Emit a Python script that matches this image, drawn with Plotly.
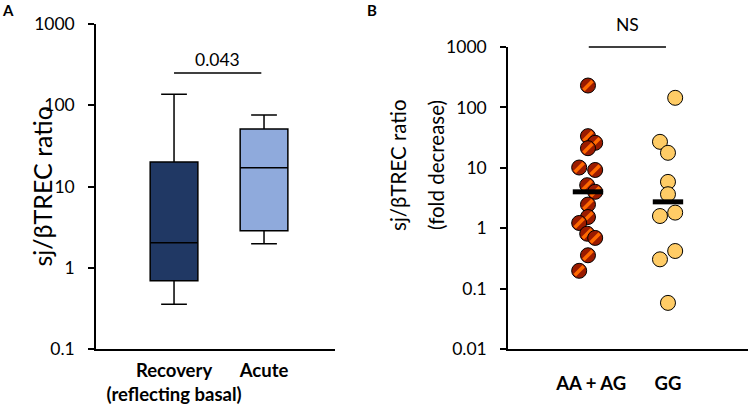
import numpy as np
import plotly.graph_objects as go

# --- panel A: box summary ---
box_groups = ["Recovery<br>(reflecting basal)", "Acute"]
box_lower = [0.356, 1.97]
box_q1 = [0.69, 2.85]
box_median = [2.03, 17.0]
box_q3 = [20.0, 51.0]
box_upper = [137.0, 75.7]
box_colors = ["#203864", "#8FAADC"]
p_value = "0.043"
p_level = 250

# --- panel B: individual points ---
geno_groups = ["AA + AG", "GG"]
aa_ag = [230, 33.4, 25.9, 21.1, 10.1, 9.2, 5.15, 4.0, 2.46, 1.53, 1.22, 0.81, 0.69, 0.356, 0.197]
gg = [144, 26.9, 17.7, 5.84, 3.65, 1.81, 1.59, 0.419, 0.305, 0.058]
ns_text = "NS"
ns_level = 1000

# horizontal spread of the dots (beeswarm look)
aa_jitter = [0, 0, 0.09, 0, -0.11, 0.09, -0.01, 0.09, 0, 0, -0.11, -0.01, 0.09, 0, -0.11]
gg_jitter = [0.09, -0.1, 0, 0, 0, 0.09, -0.1, 0.09, -0.1, 0]

FONT = "Lato"
AXC = "black"

fig = go.Figure()

for i, g in enumerate(box_groups):
    fig.add_trace(go.Box(
        x=[i], q1=[box_q1[i]], median=[box_median[i]], q3=[box_q3[i]],
        lowerfence=[box_lower[i]], upperfence=[box_upper[i]],
        width=0.53, whiskerwidth=0.54,
        fillcolor=box_colors[i], line=dict(color="black", width=1.5),
        boxpoints=False, showlegend=False, hoverinfo="skip",
        xaxis="x", yaxis="y",
    ))

# significance bar, panel A
fig.add_trace(go.Scatter(
    x=[0, 0.97], y=[p_level, p_level], mode="lines",
    line=dict(color="black", width=1.5), showlegend=False, hoverinfo="skip",
    xaxis="x", yaxis="y",
))

# AA + AG dots: dark red with an orange stripe
for v, j in zip(aa_ag, aa_jitter):
    fig.add_trace(go.Scatter(
        x=[0 + j], y=[v], mode="markers",
        marker=dict(size=15, color="#9A1B00", line=dict(color="black", width=1)),
        showlegend=False, hoverinfo="skip", xaxis="x2", yaxis="y2",
    ))
    fig.add_trace(go.Scatter(
        x=[0 + j], y=[v], mode="markers",
        marker=dict(size=9, symbol="line-ne", line=dict(color="#FF6A00", width=3.5)),
        showlegend=False, hoverinfo="skip", xaxis="x2", yaxis="y2",
    ))

fig.add_trace(go.Scatter(
    x=[1 + j for j in gg_jitter], y=gg, mode="markers",
    marker=dict(size=15, color="#FFCC66", line=dict(color="black", width=1)),
    showlegend=False, hoverinfo="skip", xaxis="x2", yaxis="y2",
))

# median bars
for i, vals in enumerate([aa_ag, gg]):
    m = np.median(vals)
    fig.add_trace(go.Scatter(
        x=[i - 0.19, i + 0.19], y=[m, m], mode="lines",
        line=dict(color="black", width=5), showlegend=False, hoverinfo="skip",
        xaxis="x2", yaxis="y2",
    ))

yax = dict(type="log", showline=True, linecolor=AXC, linewidth=1.5,
           ticks="outside", ticklen=6, tickwidth=1.5, tickcolor=AXC,
           showgrid=False, zeroline=False, ticklabelstandoff=10, automargin=False,
           tickfont=dict(family=FONT, size=17.5, color="black"))
xax = dict(showline=True, linecolor=AXC, linewidth=1.5, ticks="", tickangle=0,
           showgrid=False, zeroline=False, automargin=False,
           tickfont=dict(family=FONT, size=18.5, color="black"))

fig.update_layout(
    width=750, height=405,
    margin=dict(l=0, r=0, t=0, b=0),
    paper_bgcolor="white", plot_bgcolor="white",
    font=dict(family=FONT, color="black"),
    xaxis=dict(xax, domain=[0.128, 0.4467], range=[-0.867, 1.789],
               tickvals=[0, 1], ticktext=["<b>" + g.replace("<br>", "</b><br><b>") + "</b>" for g in box_groups],
               ticklabelstandoff=4),
    yaxis=dict(yax, domain=[0.1383, 0.9407], range=[-1, 3],
               tickvals=[0.1, 1, 10, 100, 1000], ticktext=["0.1", "1", "10", "100", "1000"]),
    xaxis2=dict(xax, domain=[0.6773, 0.9973], range=[-1.0, 2.0],
                tickvals=[0.04, 1], ticktext=["<b>" + g + "</b>" for g in geno_groups],
                ticklabelstandoff=17),
    yaxis2=dict(yax, domain=[0.1383, 0.884], range=[-2, 3], anchor="x2",
                tickvals=[0.01, 0.1, 1, 10, 100, 1000],
                ticktext=["0.01", "0.1", "1", "10", "100", "1000"]),
    shapes=[dict(type="line", xref="x2", yref="y2 domain", x0=0.01, x1=0.975, y0=1, y1=1,
                 line=dict(color="black", width=1.5))],
    annotations=[
        dict(text="<b>A</b>", x=8 / 750, y=1 - 10 / 405, xref="paper", yref="paper",
             showarrow=False, font=dict(size=15), xanchor="center", yanchor="middle"),
        dict(text="<b>B</b>", x=372 / 750, y=1 - 10 / 405, xref="paper", yref="paper",
             showarrow=False, font=dict(size=15), xanchor="center", yanchor="middle"),
        dict(text=p_value, x=0.485, y=np.log10(p_level), xref="x", yref="y",
             showarrow=False, yshift=13, font=dict(size=17.5), yanchor="middle"),
        dict(text=ns_text, x=0.5, y=np.log10(ns_level), xref="x2", yref="y2",
             showarrow=False, yshift=22, font=dict(size=17.5), yanchor="middle"),
        dict(text="sj/βTREC ratio", x=25 / 750, y=0.5395, xref="paper", yref="paper",
             showarrow=False, textangle=-90, font=dict(size=25)),
        dict(text="sj/βTREC ratio", x=398 / 750, y=1 - 165 / 405, xref="paper", yref="paper",
             showarrow=False, textangle=-90, font=dict(size=20.5)),
        dict(text="(fold decrease)", x=436 / 750, y=1 - 165 / 405, xref="paper", yref="paper",
             showarrow=False, textangle=-90, font=dict(size=20.5)),
    ],
)

# drop the page's default 8px body margin so the figure sits at (0, 0)
fig.write_html("out.html", config={"displayModeBar": False},
               post_script="document.body.style.margin='0';")
